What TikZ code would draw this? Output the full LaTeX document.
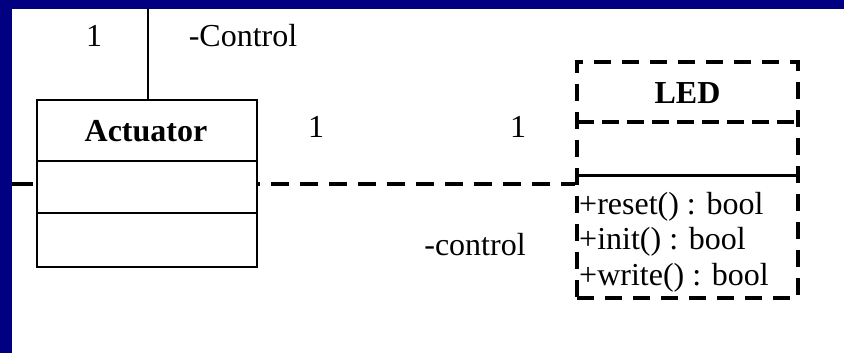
\documentclass[tikz,border=0pt]{standalone}
\usepackage{fontspec}
\setmainfont{Liberation Serif}
\definecolor{navy}{RGB}{0,0,128}
\tikzset{
  lbl/.style={font=\fontsize{32}{38}\selectfont, inner sep=0pt, anchor=base},
  solidbox/.style={draw=black, line width=2.5pt, fill=white, rectangle, inner sep=0pt},
  dashbox/.style={draw=black, line width=4pt, fill=white, rectangle, inner sep=0pt, dash pattern=on 17pt off 11pt},
  solidline/.style={draw=black, line width=2.5pt},
  dashline/.style={draw=black, line width=4pt, dash pattern=on 18pt off 11pt, dash phase=16pt},
  titletext/.style={font=\fontsize{32}{38}\selectfont\bfseries, inner sep=0pt, anchor=base},
  methodtext/.style={font=\fontsize{32}{38}\selectfont, inner sep=0pt, anchor=base west},
}
\begin{document}
\begin{tikzpicture}[x=1pt,y=-1pt]
  \useasboundingbox (0,0) rectangle (844,353);
  \fill[navy] (0,0) rectangle (844,353);
  \fill[white] (12,9) rectangle (844,353);

  % Actuator class
  \node[solidbox, minimum width=220pt, minimum height=167pt] (act) at (147,183.5) {};
  \draw[solidline] (37,161) -- (257,161);
  \draw[solidline] (37,213) -- (257,213);
  \node[titletext] (actname) at (146,142) {Actuator};

  % LED class
  \node[dashbox, minimum width=221pt, minimum height=236pt] (led) at (687.5,180) {};
  \draw[line width=4pt, dash pattern=on 17pt off 8pt] (577,122) -- (798,122);
  \draw[line width=3pt] (577,175) -- (798,175);
  \node[titletext] (ledname) at (687.5,103) {LED};
  \node[methodtext] (m1) at (579,214) {+reset() : bool};
  \node[methodtext] (m2) at (579,249) {+init() : bool};
  \node[methodtext] (m3) at (579,285) {+write() : bool};

  % connectors
  \coordinate (topend) at (148,9);
  \draw[solidline] (topend) -- (topend |- act.north);
  \coordinate (leftend) at (12,183.5);
  \draw[line width=4pt, dash pattern=on 21pt off 10pt] (leftend) -- (act.west);
  \draw[dashline] (act.east) -- (act.east -| led.west);

  % labels
  \node[lbl] (m1top) at (94,47) {1};
  \node[lbl] (roletop) at (243,47) {-Control};
  \node[lbl] (m1a) at (316,137) {1};
  \node[lbl] (m1b) at (518,137) {1};
  \node[lbl] (rolectl) at (475,255) {-control};
\end{tikzpicture}
\end{document}
